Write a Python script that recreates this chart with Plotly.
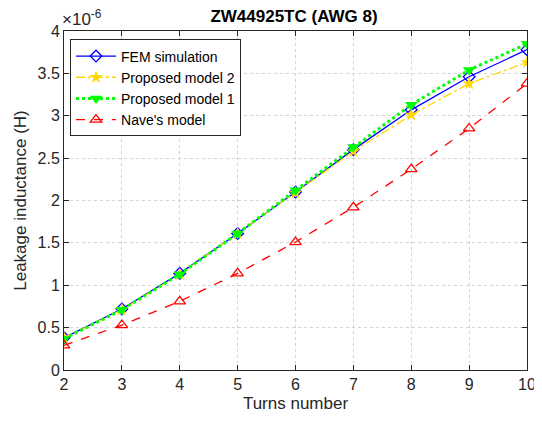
import plotly.graph_objects as go

turns = [2, 3, 4, 5, 6, 7, 8, 9, 10]
fem = [0.38, 0.72, 1.14, 1.61, 2.10, 2.60, 3.07, 3.46, 3.78]
prop2 = [0.38, 0.71, 1.13, 1.61, 2.09, 2.58, 3.01, 3.38, 3.63]
prop1 = [0.37, 0.71, 1.13, 1.61, 2.12, 2.63, 3.13, 3.54, 3.85]
nave = [0.29, 0.53, 0.81, 1.14, 1.51, 1.92, 2.37, 2.85, 3.38]

yticks = [0, 0.5, 1, 1.5, 2, 2.5, 3, 3.5, 4]
ytick_text = ["0", "0.5", "1", "1.5", "2", "2.5", "3", "3.5", "4"]
xticks = [2, 3, 4, 5, 6, 7, 8, 9, 10]

FONT = "Liberation Sans, Arial"
W, H = 534, 413  # page body has an 8px margin

fig = go.Figure()
fig.add_trace(go.Scatter(x=turns, y=fem, name="FEM simulation", mode="lines+markers",
                         line=dict(color="#0000FF", width=1.3),
                         marker=dict(symbol="diamond-open", size=9, color="#0000FF", line=dict(width=1.3))))
fig.add_trace(go.Scatter(x=turns, y=prop2, name="Proposed model 2", mode="lines+markers",
                         line=dict(color="#FFD700", width=1.3, dash="dashdot"),
                         marker=dict(symbol="star", size=10, color="#FFD700")))
fig.add_trace(go.Scatter(x=turns, y=prop1, name="Proposed model 1", mode="lines+markers",
                         line=dict(color="#00FF00", width=3, dash="dot"),
                         marker=dict(symbol="triangle-down", size=11, color="#00FF00")))
fig.add_trace(go.Scatter(x=turns, y=nave, name="Nave's model", mode="lines+markers",
                         line=dict(color="#FF0000", width=1.3, dash="dash"),
                         marker=dict(symbol="triangle-up-open", size=10, color="#FF0000", line=dict(width=1.3))))

axis_common = dict(showline=True, linecolor="#262626", linewidth=1, mirror="ticks",
                   ticks="inside", ticklen=5, tickcolor="#262626", automargin=False,
                   showgrid=True, gridcolor="#D4D4D4", griddash="dot", gridwidth=1,
                   zeroline=False, tickfont=dict(family=FONT, size=16, color="#262626"))

fig.update_layout(
    width=W, height=H,
    margin=dict(l=56, r=15, t=23, b=51),
    paper_bgcolor="white", plot_bgcolor="white",
    title=dict(text="<b>ZW44925TC (AWG 8)</b>", x=(294 - 8) / W, xanchor="center",
               y=1 - 8.5 / H, yanchor="middle",
               font=dict(family=FONT, size=17, color="black")),
    xaxis=dict(range=[2, 10], tickvals=xticks,
               title=dict(text="Turns number", font=dict(family=FONT, size=17, color="#262626"), standoff=4),
               **axis_common),
    yaxis=dict(range=[0, 4], tickvals=yticks, ticktext=ytick_text,
               title=dict(text="Leakage inductance (H)", font=dict(family=FONT, size=17, color="#262626"), standoff=6),
               **axis_common),
    legend=dict(x=0.013, y=0.975, xanchor="left", yanchor="top",
                bgcolor="white", bordercolor="#262626", borderwidth=1,
                font=dict(family=FONT, size=14, color="black"),
                tracegroupgap=0, itemwidth=40),
    showlegend=True,
)
fig.add_annotation(text="×10<sup>-6</sup>", xref="paper", yref="paper", x=0, y=1, xanchor="left",
                   yanchor="bottom", showarrow=False, xshift=-4,
                   font=dict(family=FONT, size=17, color="#262626"))

fig.write_html("out.html")
